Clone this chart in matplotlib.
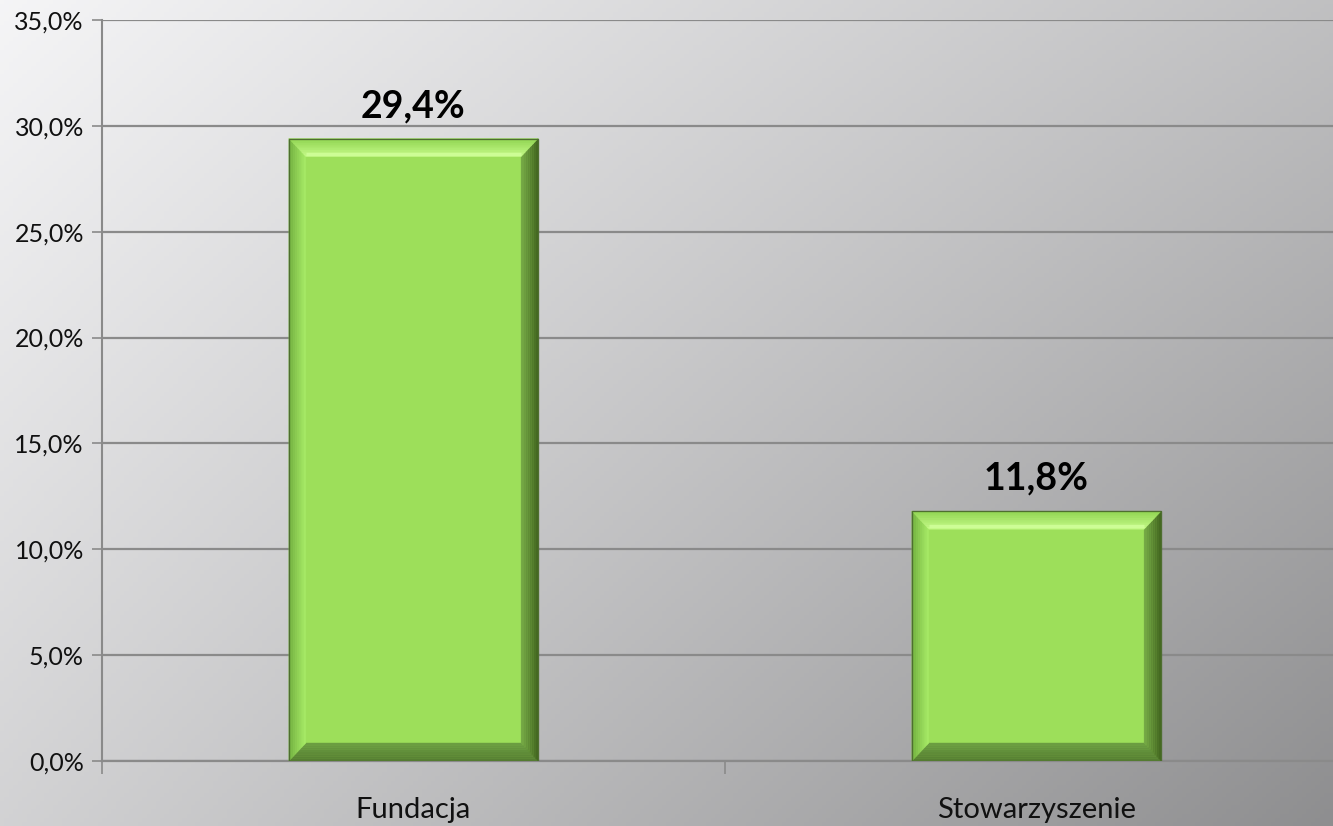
import numpy as np
import matplotlib
matplotlib.use("Agg")
import matplotlib.pyplot as plt
from matplotlib.patches import Polygon
from matplotlib.colors import to_rgb

categories = ["Fundacja", "Stowarzyszenie"]
values = [29.4, 11.8]
yticks = [0, 5, 10, 15, 20, 25, 30, 35]

W, H = 1333, 826
DPI = 100
plt.rcParams['font.family'] = ['Lato', 'DejaVu Sans']

fig = plt.figure(figsize=(W / DPI, H / DPI), dpi=DPI)

# background gradient
bg = fig.add_axes([0, 0, 1, 1], zorder=-10)
bg.set_axis_off()
xs = np.linspace(0, 1, 300)
ys = np.linspace(0, 1, 200)
X, Y = np.meshgrid(xs, ys)
tl, tr, bl, br = 245, 192, 210, 142
G = (tl * (1 - X) * (1 - Y) + tr * X * (1 - Y) + bl * (1 - X) * Y + br * X * Y) / 255.0
img = np.dstack([G, G, G + 0.006])
img = np.clip(img, 0, 1)
bg.imshow(img, extent=[0, 1, 0, 1], origin='upper', aspect='auto')
bg.set_xlim(0, 1)
bg.set_ylim(0, 1)

left_px, right_px = 102, 1348
bot_px, top_px = 826 - 761, 826 - 20
ax = fig.add_axes([left_px / W, bot_px / H, (right_px - left_px) / W, (top_px - bot_px) / H])
ax.patch.set_alpha(0)
ax.set_xlim(-0.5, 1.5)
ax.set_ylim(0, 35)

gridc = '#8a8a8a'
ax.set_yticks(yticks)
ax.set_yticklabels([f"{v:.1f}%".replace('.', ',') for v in yticks], fontsize=18, color='#111111')
ax.yaxis.grid(True, color=gridc, linewidth=1.6, zorder=0)
ax.set_axisbelow(True)
ax.tick_params(axis='y', length=7, width=1.2, color=gridc, pad=6)
ax.set_xticks([-0.5, 0.5, 1.5])
ax.set_xticklabels([])
ax.set_xticks([0, 1], minor=True)
ax.set_xticklabels(categories, minor=True, fontsize=21, color='#111111')
ax.tick_params(axis='x', which='major', length=9, width=1.2, color=gridc)
ax.tick_params(axis='x', which='minor', length=0, pad=26)
for s in ['top', 'right']:
    ax.spines[s].set_visible(False)
ax.spines['left'].set_color(gridc)
ax.spines['left'].set_linewidth(1.5)
ax.spines['bottom'].set_color(gridc)
ax.spines['bottom'].set_linewidth(1.6)

face = '#9ddf5a'
bars = ax.bar(range(len(categories)), values, width=0.4, color=face,
              edgecolor='#4e6e30', linewidth=0.8, zorder=3)

# bevel size in data units
fig.canvas.draw()
inv = ax.transData.inverted()
p0 = inv.transform((0, 0))
p1 = inv.transform((17, 18))
bx, by = p1[0] - p0[0], p1[1] - p0[1]


def mix(c1, c2, t):
    a, b = np.array(to_rgb(c1)), np.array(to_rgb(c2))
    return tuple(a + (b - a) * t)


def strip_bevel(outer, inner, c_out, c_in, n=8):
    o1, o2 = np.array(outer[0]), np.array(outer[1])
    i1, i2 = np.array(inner[0]), np.array(inner[1])
    for k in range(n):
        t0, t1 = k / n, (k + 1) / n
        a1 = o1 + (i1 - o1) * t0
        a2 = o2 + (i2 - o2) * t0
        b1 = o1 + (i1 - o1) * t1
        b2 = o2 + (i2 - o2) * t1
        col = mix(c_out, c_in, (t0 + t1) / 2)
        ax.add_patch(Polygon([a1, a2, b2, b1], closed=True, facecolor=col,
                             edgecolor=col, linewidth=0.3, zorder=4))


for b in bars:
    x0, w, h = b.get_x(), b.get_width(), b.get_height()
    x1 = x0 + w
    OL, OR, OT, OB = x0, x1, h, 0
    IL, IR, IT, IB = x0 + bx, x1 - bx, h - by, by
    strip_bevel([(OL, OB), (OR, OB)], [(IL, IB), (IR, IB)], '#557c31', '#6c9f42')
    strip_bevel([(OR, OB), (OR, OT)], [(IR, IB), (IR, IT)], '#41651f', '#76aa46')
    strip_bevel([(OL, OB), (OL, OT)], [(IL, IB), (IL, IT)], '#72b03f', '#a8ec68')
    strip_bevel([(OL, OT), (OR, OT)], [(IL, IT), (IR, IT)], '#8fd350', '#c6fb8a')
    ax.plot([IL, IR], [IT + by * 0.15, IT + by * 0.15], color='#cdfd96', lw=2.5, zorder=5,
            solid_capstyle='butt')
    ax.add_patch(plt.Rectangle((x0, 0), w, h, fill=False, edgecolor='#4e6e30',
                               linewidth=0.9, zorder=6))
    ax.annotate(f"{h:.1f}%".replace('.', ','), (x0 + w / 2, h), xytext=(0, 11),
                textcoords='offset points', ha='center', va='bottom',
                fontsize=27, fontweight='bold', color='#000000', zorder=7)

fig.savefig('out.png', dpi=DPI)
